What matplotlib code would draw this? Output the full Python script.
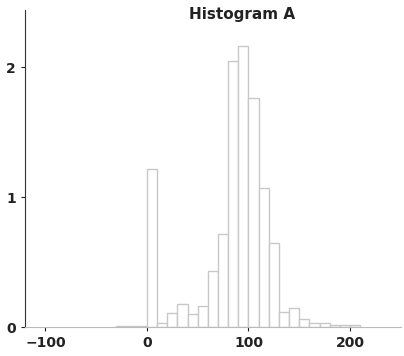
import matplotlib.pyplot as plt

# bin start values (width 10) and heights
bin_starts = [-30, -20, -10, 0, 10, 20, 30, 40, 50, 60, 70, 80, 90, 100,
              110, 120, 130, 140, 150, 160, 170, 180, 190, 200]
heights = [0.01, 0.01, 0.01, 1.22, 0.03, 0.11, 0.18, 0.10, 0.16, 0.43, 0.72, 2.05, 2.16, 1.76,
           1.07, 0.65, 0.12, 0.15, 0.06, 0.03, 0.03, 0.02, 0.02, 0.02]
xticks = [-100, 0, 100, 200]
yticks = [0, 1, 2]

fig = plt.figure(figsize=(4.04, 3.56), dpi=100)
ax = fig.add_axes([0.062, 0.081, 0.93, 0.891])

ax.bar(bin_starts, heights, width=10, align='edge',
       facecolor='white', edgecolor='#c8c8c8', linewidth=1.0)

ax.set_xlim(-120, 250)
ax.set_ylim(0, 2.44)
ax.set_xticks(xticks)
ax.set_yticks(yticks)
ax.tick_params(labelsize=10, length=3, colors='#222222')
for lbl in ax.get_xticklabels() + ax.get_yticklabels():
    lbl.set_fontweight('bold')

for s in ['top', 'right']:
    ax.spines[s].set_visible(False)
ax.spines['bottom'].set_color('#bbbbbb')
ax.spines['left'].set_color('#333333')

fig.text(0.6, 0.958, 'Histogram A', ha='center', va='center',
         fontsize=11, fontweight='bold', color='#222222')

plt.savefig('out.png', dpi=100)
